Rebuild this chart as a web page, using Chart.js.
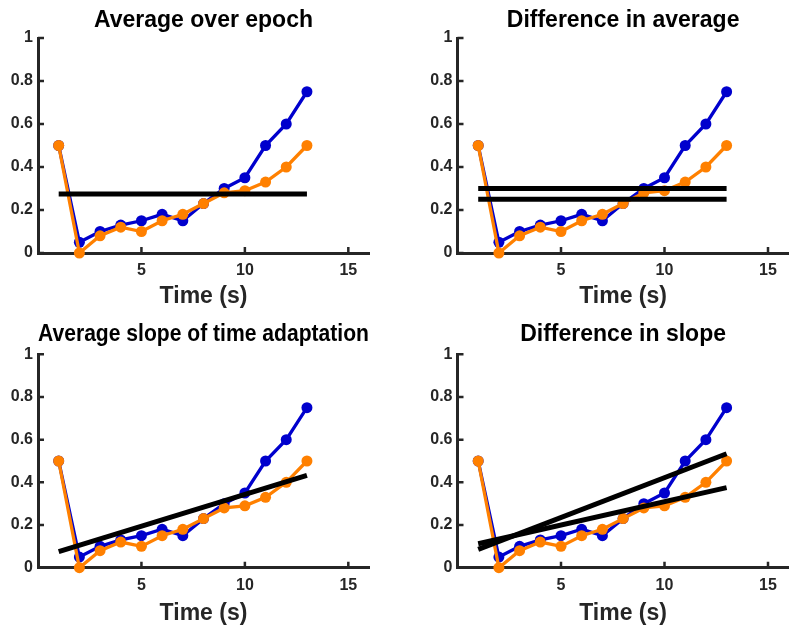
<!DOCTYPE html>
<html>
<head>
<meta charset="utf-8">
<title>Time adaptation</title>
<script src="https://cdn.jsdelivr.net/npm/chart.js@4.4.1/dist/chart.umd.min.js"></script>
<style>
  body { margin: 0; background: #fff; }
  #wrap { position: relative; width: 800px; height: 633px; overflow: hidden; }
  canvas { position: absolute; }
</style>
</head>
<body>
<div id="wrap">
  <canvas id="c0" width="400" height="316" style="left:0;top:0"></canvas>
  <canvas id="c1" width="400" height="316" style="left:400px;top:0"></canvas>
  <canvas id="c2" width="400" height="317" style="left:0;top:316px"></canvas>
  <canvas id="c3" width="400" height="317" style="left:400px;top:316px"></canvas>
</div>
<script>
// data
const times = [1, 2, 3, 4, 5, 6, 7, 8, 9, 10, 11, 12, 13];
const blueVals = [0.5, 0.05, 0.10, 0.13, 0.15, 0.18, 0.15, 0.23, 0.30, 0.35, 0.50, 0.60, 0.75];
const orangeVals = [0.5, 0.0, 0.08, 0.12, 0.10, 0.15, 0.18, 0.23, 0.28, 0.29, 0.33, 0.40, 0.50];

const xTicks = [5, 10, 15];
const yTicks = [0, 0.2, 0.4, 0.6, 0.8, 1];

// black fit lines, value at t=1 and t=13
const fitX = [1, 13];
const avgFit = [0.275, 0.275];
const diffAvgFitA = [0.30, 0.30];
const diffAvgFitB = [0.25, 0.25];
const slopeFit = [0.075, 0.433];
const diffSlopeFitA = [0.086, 0.534];
const diffSlopeFitB = [0.112, 0.375];

const titles = ['Average over epoch', 'Difference in average', 'Average slope of time adaptation', 'Difference in slope'];
const xLabel = 'Time (s)';

const FONT = "'Liberation Sans', Arial, Helvetica, sans-serif";
const axisColor = '#262626';
const blue = 'rgb(0, 0, 205)';
const orange = 'rgb(255, 128, 0)';

// MATLAB style tick marks pointing inside the axes
const innerTicks = {
  id: 'innerTicks',
  beforeDatasetsDraw(chart) {
    const { ctx, chartArea, scales } = chart;
    ctx.save();
    ctx.strokeStyle = axisColor;
    ctx.lineWidth = 2.5;
    ctx.beginPath();
    xTicks.forEach(v => {
      const px = scales.x.getPixelForValue(v);
      ctx.moveTo(px, chartArea.bottom);
      ctx.lineTo(px, chartArea.bottom - 6);
    });
    yTicks.forEach(v => {
      const py = scales.y.getPixelForValue(v);
      ctx.moveTo(chartArea.left, py);
      ctx.lineTo(chartArea.left + 6, py);
    });
    ctx.stroke();
    ctx.restore();
  }
};

function series(values, color, order) {
  return {
    data: times.map((t, i) => ({ x: t, y: values[i] })),
    borderColor: color,
    backgroundColor: color,
    borderWidth: 3.3,
    pointRadius: 5.5,
    pointBorderWidth: 0,
    pointHoverRadius: 5.5,
    tension: 0,
    clip: false,
    order: order
  };
}

function fitLine(values) {
  return {
    data: fitX.map((t, i) => ({ x: t, y: values[i] })),
    borderColor: '#000',
    borderWidth: 5,
    pointRadius: 0,
    pointHoverRadius: 0,
    borderCapStyle: 'butt',
    clip: false,
    order: 0
  };
}

const panels = [
  { id: 'c0', fits: [avgFit], yW: 38, padR: 31, xH: 63, tTop: 6.5, tBot: 3.9 },
  { id: 'c1', fits: [diffAvgFitA, diffAvgFitB], yW: 57.5, padR: 11.3, xH: 63, tTop: 6.5, tBot: 3.9 },
  { id: 'c2', fits: [slopeFit], yW: 38, padR: 31, xH: 65.3, tTop: 5, tBot: 5.7 },
  { id: 'c3', fits: [diffSlopeFitA, diffSlopeFitB], yW: 57.5, padR: 11.3, xH: 65.3, tTop: 5, tBot: 5.7 }
];

panels.forEach((p, k) => {
  const datasets = p.fits.map(fitLine);
  datasets.push(series(orangeVals, orange, 1));
  datasets.push(series(blueVals, blue, 2));

  new Chart(document.getElementById(p.id), {
    type: 'line',
    data: { datasets: datasets },
    plugins: [innerTicks],
    options: {
      responsive: false,
      animation: false,
      events: [],
      layout: { padding: { left: 0, right: p.padR, top: 0, bottom: 0 } },
      plugins: {
        legend: { display: false },
        tooltip: { enabled: false },
        title: {
          display: true,
          text: titles[k],
          fullSize: false,
          color: '#000',
          font: { family: FONT, size: 23, weight: 'bold', lineHeight: 1.2 },
          padding: { top: p.tTop, bottom: p.tBot }
        }
      },
      scales: {
        x: {
          type: 'linear',
          min: 0,
          max: 16,
          afterBuildTicks: a => { a.ticks = xTicks.map(v => ({ value: v })); },
          afterFit: s => { s.height = p.xH; },
          grid: { display: false, drawTicks: false },
          border: { display: true, color: axisColor, width: 3 },
          ticks: {
            color: axisColor,
            font: { family: FONT, size: 16, weight: 'bold' },
            padding: 8,
            maxRotation: 0,
            autoSkip: false
          },
          title: {
            display: true,
            text: xLabel,
            color: axisColor,
            font: { family: FONT, size: 23, weight: 'bold', lineHeight: 1.2 },
            padding: { top: 0, bottom: 6 }
          }
        },
        y: {
          min: 0,
          max: 1,
          afterBuildTicks: a => { a.ticks = yTicks.map(v => ({ value: v })); },
          afterFit: s => { s.width = p.yW; },
          grid: { display: false, drawTicks: false },
          border: { display: true, color: axisColor, width: 3 },
          ticks: {
            color: axisColor,
            font: { family: FONT, size: 16, weight: 'bold' },
            padding: 5,
            callback: v => String(Math.round(v * 10) / 10)
          }
        }
      }
    }
  });
});
</script>
</body>
</html>
